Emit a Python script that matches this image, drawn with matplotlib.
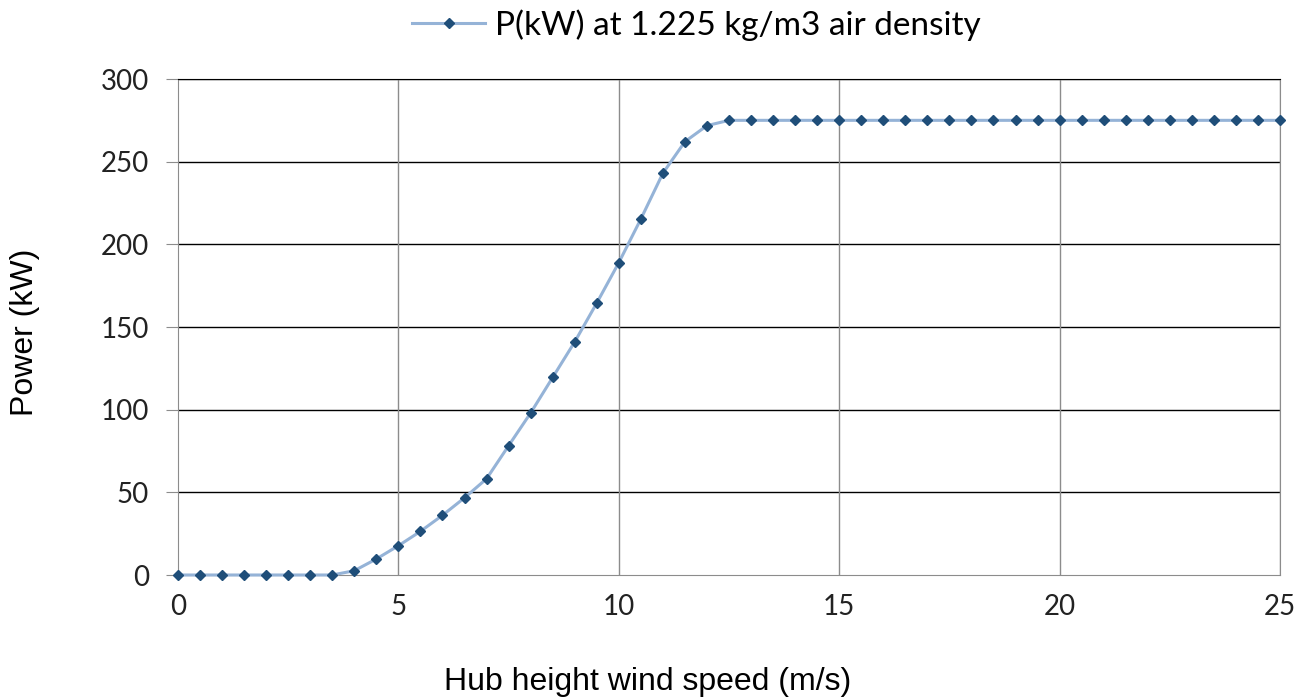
import matplotlib.pyplot as plt

# wind speed (m/s) and power (kW)
wind_speed = [i * 0.5 for i in range(51)]
power = [0, 0, 0, 0, 0, 0, 0, 0,
         2.6, 9.7, 17.7, 26.4, 36.1, 46.7, 58.2, 78.2, 98.0, 119.5, 141.0, 164.5,
         188.9, 215.3, 243.0, 262.1, 271.8,
         275, 275, 275, 275, 275, 275, 275, 275, 275, 275, 275, 275, 275, 275,
         275, 275, 275, 275, 275, 275, 275, 275, 275, 275, 275, 275]
series_label = 'P(kW) at 1.225 kg/m3 air density'
x_ticks = [0, 5, 10, 15, 20, 25]
y_ticks = [0, 50, 100, 150, 200, 250, 300]

fig = plt.figure(figsize=(13.02, 6.98), dpi=100)
ax = fig.add_axes([178 / 1302, 1 - 575 / 698, (1280 - 178) / 1302, (575 - 79) / 698])

ax.plot(wind_speed, power, color='#95b3d7', linewidth=2.2, marker='D', markersize=5.5,
        markerfacecolor='#1f4e79', markeredgecolor='#1f4e79', label=series_label, zorder=3,
        clip_on=False)

ax.set_xlim(0, 25)
ax.set_ylim(0, 300)
ax.set_xticks(x_ticks)
ax.set_yticks(y_ticks)

# black horizontal gridlines, gray vertical ones
for y in y_ticks[1:]:
    ax.axhline(y, color='black', linewidth=1.0, zorder=1)
for x in x_ticks[1:]:
    ax.axvline(x, color='#8c8c8c', linewidth=1.0, zorder=1)

for side in ['left', 'bottom', 'right']:
    ax.spines[side].set_color('#8c8c8c')
ax.spines['top'].set_color('black')

ax.tick_params(axis='y', direction='out', length=9, color='#8c8c8c', labelsize=20, pad=12)
ax.tick_params(axis='x', direction='out', length=0, labelsize=20, pad=14)
for lbl in ax.get_xticklabels() + ax.get_yticklabels():
    lbl.set_fontfamily('Lato')
    lbl.set_color('#222222')

ax.set_xlabel('Hub height wind speed (m/s)', fontsize=23, family='Liberation Sans')
ax.xaxis.set_label_coords(0.426, -0.185)
ax.set_ylabel('Power (kW)', fontsize=23, family='Liberation Sans')
ax.yaxis.set_label_coords(-0.125, 0.49)

leg = fig.legend(loc='upper center', bbox_to_anchor=(0.535, 1.03), frameon=False,
                 prop={'family': 'Lato', 'size': 24}, handlelength=2.2, handletextpad=0.3)

plt.savefig('out.png', dpi=100)
